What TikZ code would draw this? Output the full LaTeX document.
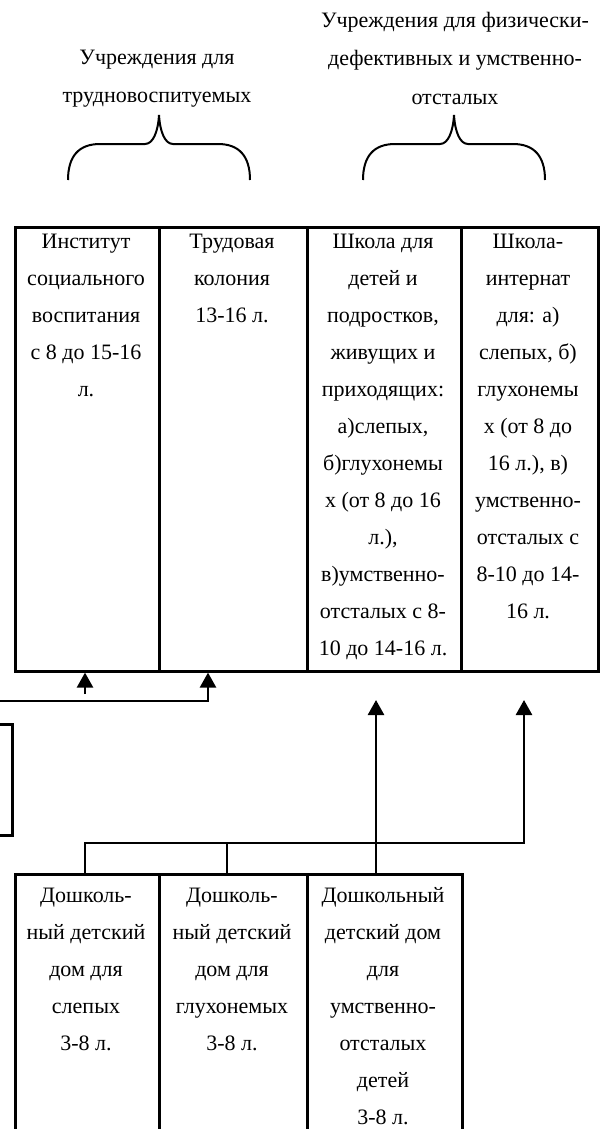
\documentclass[tikz,border=0pt]{standalone}
\usepackage{fontspec}
\setmainfont{Liberation Serif}
\usetikzlibrary{arrows.meta}
\tikzset{cell/.style = {rectangle, draw, line width=1.3pt, inner sep=0pt, anchor=north west},
           txt/.style = {anchor=north, align=center, inner sep=0pt, font=\fontsize{11}{18.5}\selectfont},
           hd/.style = {anchor=north, align=center, inner sep=0pt, font=\fontsize{11}{19.3}\selectfont},
           ln/.style = {line width=1.3pt},
           brc/.style = {line width=1pt}}

\begin{document}
\begin{tikzpicture}[x=0.5pt, y=-0.5pt, >={Triangle[width=8pt,length=7.5pt]}]
    \useasboundingbox (0,0) rectangle (600,1129);
    \node[hd] (hl) at (157,49.5) {Учреждения для\\трудновоспитуемых};
    \node[hd] (hr) at (455,11.5) {Учреждения для физически-\\дефективных и умственно-\\отсталых};
    \foreach \c in {159,454} {
      \draw[brc] (\c-91,180) .. controls (\c-91,156) and (\c-80,144) .. (\c-59,144) -- (\c-14,144)
        .. controls (\c-6,144) and (\c-1,132) .. (\c,115)
        .. controls (\c+1,132) and (\c+6,144) .. (\c+14,144) -- (\c+59,144)
        .. controls (\c+80,144) and (\c+91,156) .. (\c+91,180);
    }
    \node[cell, minimum width=72pt, minimum height=222pt] (inst) at (14,226) {};
    \node[cell, minimum width=74pt, minimum height=222pt] (trud) at (158,226) {};
    \node[cell, minimum width=77pt, minimum height=222pt] (shk) at (306,226) {};
    \node[cell, minimum width=68.5pt, minimum height=222pt] (intr) at (460,226) {};
    \node[txt] (t1) at (86,233.5) {Институт\\социального\\воспитания\\с 8 до 15-16\\л.};
    \node[txt] (t2) at (232,233.5) {Трудовая\\колония\\13-16 л.};
    \node[txt] (t3) at (383,233.5) {Школа для\\детей и\\подростков,\\живущих и\\приходящих:\\а)слепых,\\б)глухонемы\\х (от 8 до 16\\л.),\\в)умственно-\\отсталых с 8-\\10 до 14-16 л.};
    \node[txt] (t4) at (528,233.5) {Школа-\\интернат\\для: а)\\слепых, б)\\глухонемы\\х (от 8 до\\16 л.), в)\\умственно-\\отсталых с\\8-10 до 14-\\16 л.};
    \node[cell, anchor=north east, minimum width=40pt, minimum height=55.5pt] (side) at (14,723) {};
    \node[cell, minimum width=72pt, minimum height=150pt] (d1) at (14,873) {};
    \node[cell, minimum width=74pt, minimum height=150pt] (d2) at (158,873) {};
    \node[cell, minimum width=77.5pt, minimum height=150pt] (d3) at (306,873) {};
    \node[txt] (u1) at (86,887.5) {Дошколь-\\ный детский\\дом для\\слепых\\3-8 л.};
    \node[txt] (u2) at (232,887.5) {Дошколь-\\ный детский\\дом для\\глухонемых\\3-8 л.};
    \node[txt] (u3) at (383,887.5) {Дошкольный\\детский дом\\для\\умственно-\\отсталых\\детей\\3-8 л.};
    \coordinate (a0) at (-20,701); \coordinate (a1) at (85,694); \coordinate (a2) at (208,701);
    \coordinate (b1) at (85,843); \coordinate (b2) at (227,843);
    \coordinate (b3) at (376,843); \coordinate (b4) at (524,843);
    \coordinate (e3) at (376,700); \coordinate (e4) at (524,700);
    \draw[ln, ->] (a0) -- (a2) -- (a2 |- trud.south);
    \draw[ln, ->] (a1) -- (a1 |- inst.south);
    \draw[ln, ->] (b1 |- d1.north) -- (b1) -- (b4) -- (e4);
    \draw[ln] (b2 |- d2.north) -- (b2);
    \draw[ln, ->] (b3 |- d3.north) -- (e3);
\end{tikzpicture}
\end{document}
